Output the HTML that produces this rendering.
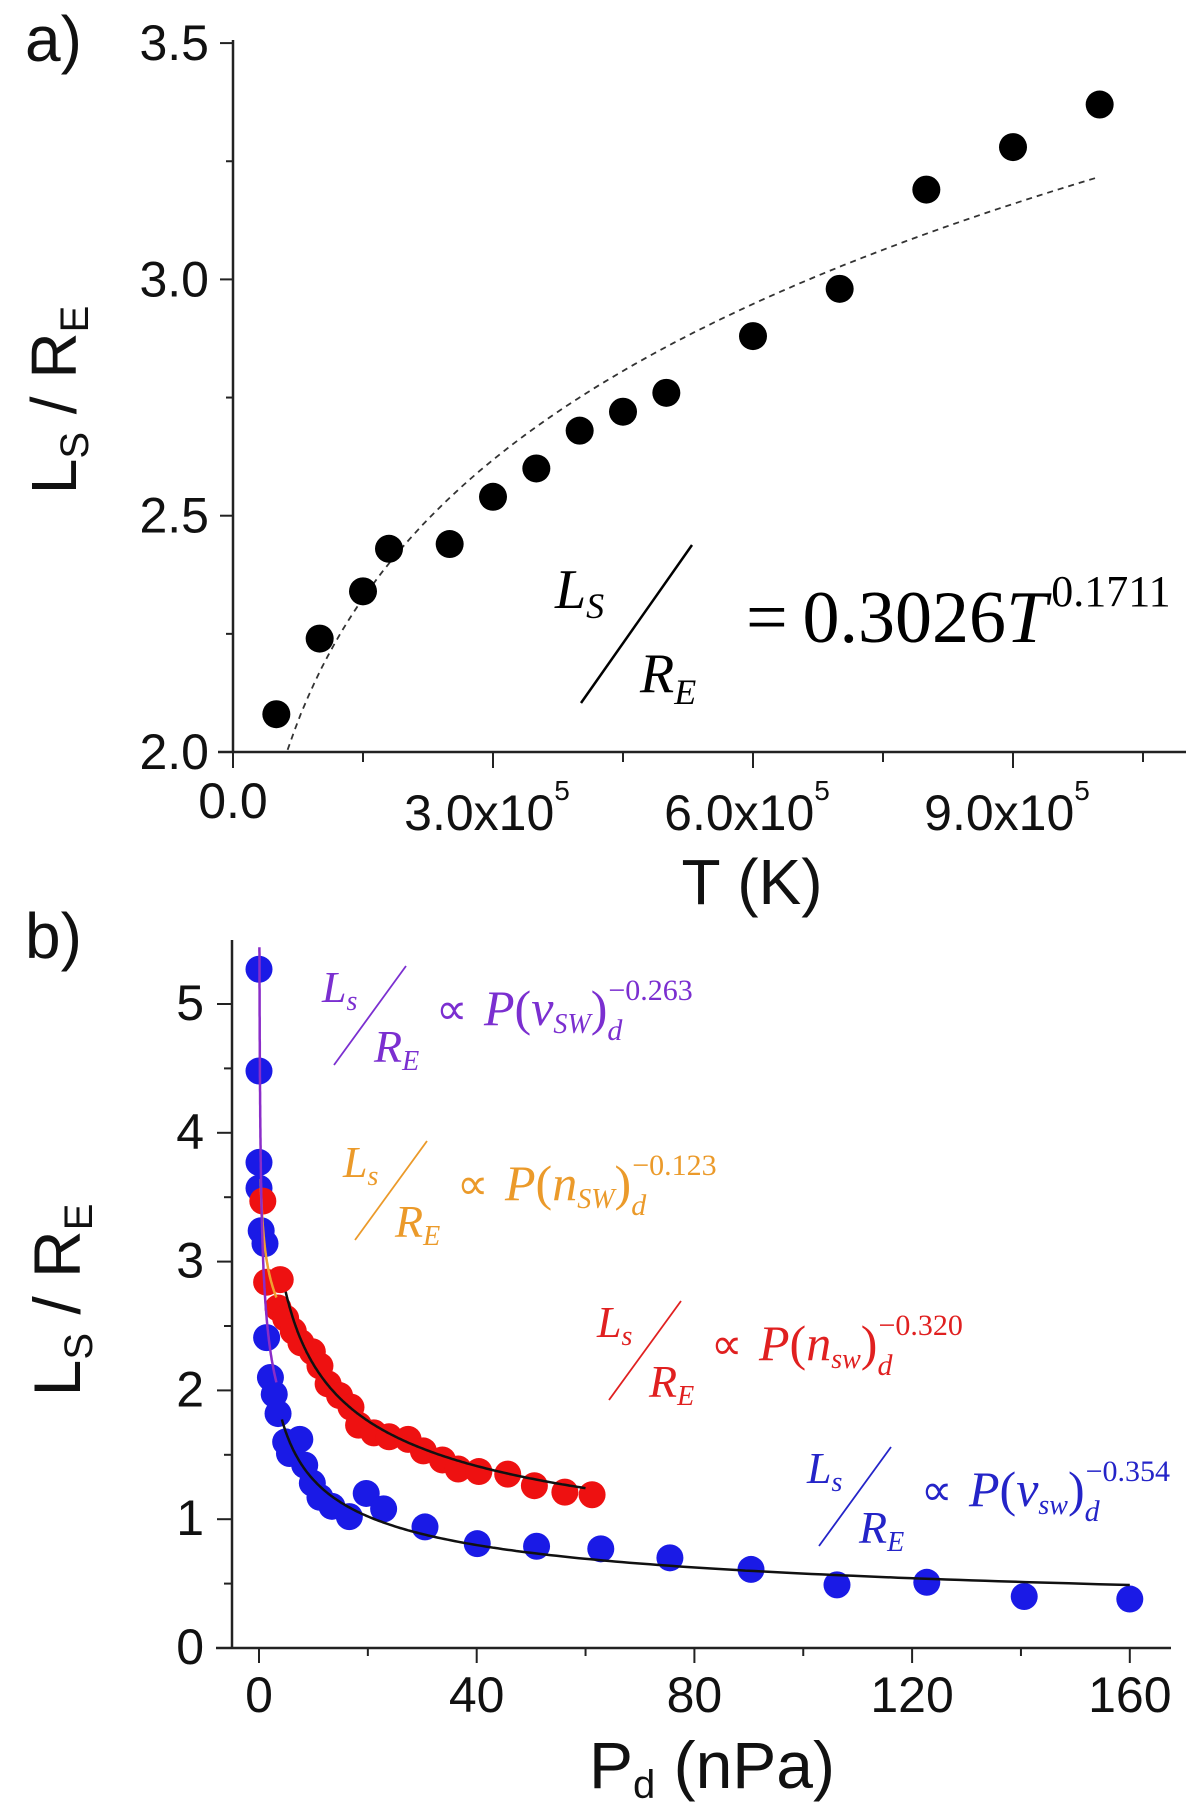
<!DOCTYPE html>
<html><head><meta charset="utf-8"><style>
html,body{margin:0;padding:0;background:#fff;}
svg{display:block;}
.sans{font-family:"Liberation Sans",sans-serif;}
.serif{font-family:"Liberation Serif",serif;font-style:italic;}
</style></head><body>
<svg id="fig" width="1200" height="1814" viewBox="0 0 1200 1814" xmlns="http://www.w3.org/2000/svg">
<g id="pa"></g>
<g id="pb"></g>
</svg>
<script>
// ---- Panel a data ----
const aT = [0.5e5,1e5,1.5e5,1.8e5,2.5e5,3e5,3.5e5,4e5,4.5e5,5e5,6e5,7e5,8e5,9e5,10e5];
const aL = [2.08,2.24,2.34,2.43,2.44,2.54,2.60,2.68,2.72,2.76,2.88,2.98,3.19,3.28,3.37];
const aYTicks = [2.0,2.5,3.0,3.5];
const aYLabels = ["2.0","2.5","3.0","3.5"];
const aXTicks = [0,3e5,6e5,9e5];
const aXMant = ["0.0","3.0x10","6.0x10","9.0x10"];
const aFitCoef = 0.3026, aFitExp = 0.1711;

// ---- Panel b data ----
const bBlueX = [0,0,0,0,0.4,1.1,1.4,2.1,2.8,3.5,4.9,5.6,7.5,8.4,9.8,11.2,13.4,16.6,19.7,22.9,30.5,40.1,51,62.8,75.5,90.4,106.2,122.7,140.6,160];
const bBlueY = [5.27,4.48,3.77,3.57,3.24,3.14,2.41,2.10,1.97,1.82,1.60,1.51,1.62,1.42,1.28,1.17,1.10,1.02,1.20,1.08,0.94,0.81,0.79,0.77,0.70,0.61,0.49,0.51,0.40,0.38];
const bRedX = [0.7,1.4,3.9,3.5,4.9,6.3,7.7,9.8,11.2,12.7,14.8,16.9,18.3,21.1,23.9,27.4,30.2,33.7,36.6,40.4,45.7,50.6,56.2,61.2];
const bRedY = [3.47,2.84,2.86,2.64,2.56,2.46,2.37,2.30,2.19,2.05,1.96,1.87,1.73,1.67,1.64,1.62,1.53,1.46,1.39,1.37,1.35,1.26,1.21,1.19];
const bYTicks = [0,1,2,3,4,5];
const bXTicks = [0,40,80,120,160];
const fitBlue = {c:2.95, e:0.354, x0:4.2, x1:160};
const fitRed = {c:4.6, e:0.320, x0:4.9, x1:60};
const fitOrange = {c:3.14, e:0.123, x0:0.3, x1:3.2};
const fitPurple = {c:2.8, e:0.263, x0:0.08, x1:3.2};

const NS="http://www.w3.org/2000/svg";
function mk(parent,tag,attrs,text){const e=document.createElementNS(NS,tag);for(const k in attrs)e.setAttribute(k,attrs[k]);if(text!==undefined)e.textContent=text;parent.appendChild(e);return e;}

const axX=v=>233+v/3e5*260, ayY=v=>752-(v-2)/0.5*236.3;
const bxX=v=>259+v/40*217.7, byY=v=>1648-v*128.8;

// ===== Panel a =====
const pa=document.getElementById('pa');
let e;
e=mk(pa,'line',{x1:233,y1:40,x2:233,y2:752,stroke:'#222','stroke-width':2.5});

e=mk(pa,'line',{x1:218,y1:752,x2:1186,y2:752,stroke:'#222','stroke-width':2.5});

for(let v=2.0;v<=3.51;v+=0.25){const y=ayY(v);const maj=Math.abs(v*2-Math.round(v*2))<1e-6;
 e=mk(pa,'line',{x1:maj?220:226,y1:y,x2:233,y2:y,stroke:'#222','stroke-width':2});
 }
for(let v=0;v<=10.6e5;v+=1.5e5){const x=axX(v);const maj=(Math.round(v/1.5e5)%2===0);
 e=mk(pa,'line',{x1:x,y1:752,x2:x,y2:maj?768:762,stroke:'#222','stroke-width':2});
 }
aYTicks.forEach((v,i)=>{e=mk(pa,'text',{x:209,y:ayY(v)+17,'text-anchor':'end','font-size':50,class:'sans',fill:'#111'},aYLabels[i]);
 });
aXTicks.forEach((v,i)=>{
 if(i===0){e=mk(pa,'text',{x:axX(v),y:818,'text-anchor':'middle','font-size':50,class:'sans',fill:'#111'},aXMant[i]);}
 else{e=mk(pa,'text',{x:axX(v)-6,y:830,'text-anchor':'middle','font-size':50,class:'sans',fill:'#111'});
  mk(e,'tspan',{},aXMant[i]);mk(e,'tspan',{'font-size':28,dy:-30},'5');}
 });
e=mk(pa,'text',{x:25,y:61,'font-size':64,class:'sans',fill:'#111'},'a)');

e=mk(pa,'text',{x:752,y:904,'text-anchor':'middle','font-size':64,class:'sans',fill:'#111'},'T (K)');

e=mk(pa,'text',{transform:'translate(76,400) rotate(-90)','text-anchor':'middle','font-size':64,class:'sans',fill:'#111'});
mk(e,'tspan',{},'L');mk(e,'tspan',{'font-size':40,dy:12},'S');mk(e,'tspan',{dy:-12},' / R');mk(e,'tspan',{'font-size':40,dy:12},'E');

let pts=[];for(let i=0;i<=120;i++){const t=6.3e4+(1e6-6.3e4)*i/120;pts.push(axX(t).toFixed(1)+','+ayY(aFitCoef*Math.pow(t,aFitExp)).toFixed(1));}
e=mk(pa,'polyline',{points:pts.join(' '),fill:'none',stroke:'#333','stroke-width':1.8,'stroke-dasharray':'6,5'});

aT.forEach((t,i)=>{e=mk(pa,'circle',{cx:axX(t),cy:ayY(aL[i]),r:14,fill:'#000'});
 });
e=mk(pa,'g',{class:'serif',fill:'#000'});

let t=mk(e,'text',{x:555,y:608,'font-size':56});mk(t,'tspan',{},'L');mk(t,'tspan',{'font-size':36,dy:10},'S');
mk(e,'line',{x1:692,y1:545,x2:581,y2:703,stroke:'#000','stroke-width':2.5});
t=mk(e,'text',{x:640,y:692,'font-size':56});mk(t,'tspan',{},'R');mk(t,'tspan',{'font-size':36,dy:12},'E');
t=mk(e,'text',{x:746,y:642,'font-size':74});
mk(t,'tspan',{'font-style':'normal'},'=\u20090.3026');mk(t,'tspan',{},'T');
mk(t,'tspan',{'font-size':44,'font-style':'normal',dy:-36,dx:4},'0.1711');

// ===== Panel b =====
const pb=document.getElementById('pb');
e=mk(pb,'line',{x1:232,y1:940,x2:232,y2:1648,stroke:'#222','stroke-width':2.5});

e=mk(pb,'line',{x1:216,y1:1648,x2:1171,y2:1648,stroke:'#222','stroke-width':2.5});

for(let v=0;v<=5.01;v+=0.5){const y=byY(v);const maj=Math.abs(v-Math.round(v))<1e-6;
 e=mk(pb,'line',{x1:maj?217:224,y1:y,x2:232,y2:y,stroke:'#222','stroke-width':2});
 }
for(let v=0;v<=160;v+=20){const x=bxX(v);const maj=v%40===0;
 e=mk(pb,'line',{x1:x,y1:1648,x2:x,y2:maj?1663:1656,stroke:'#222','stroke-width':2});
 }
bYTicks.forEach(v=>{e=mk(pb,'text',{x:204,y:byY(v)+16,'text-anchor':'end','font-size':50,class:'sans',fill:'#111'},String(v));
 });
bXTicks.forEach(v=>{e=mk(pb,'text',{x:bxX(v),y:1712,'text-anchor':'middle','font-size':50,class:'sans',fill:'#111'},String(v));
 });
e=mk(pb,'text',{x:25,y:958,'font-size':64,class:'sans',fill:'#111'},'b)');

e=mk(pb,'text',{x:712,y:1788,'text-anchor':'middle','font-size':66,class:'sans',fill:'#111'});
mk(e,'tspan',{},'P');mk(e,'tspan',{'font-size':40,dy:10},'d');mk(e,'tspan',{dy:-10},' (nPa)');

e=mk(pb,'text',{transform:'translate(80,1300) rotate(-90)','text-anchor':'middle','font-size':66,class:'sans',fill:'#111'});
mk(e,'tspan',{},'L');mk(e,'tspan',{'font-size':40,dy:12},'S');mk(e,'tspan',{dy:-12},' / R');mk(e,'tspan',{'font-size':40,dy:12},'E');


bBlueX.forEach((x,i)=>{e=mk(pb,'circle',{cx:bxX(x),cy:byY(bBlueY[i]),r:13.5,fill:'#1a1ae6'});
 });
bRedX.forEach((x,i)=>{e=mk(pb,'circle',{cx:bxX(x),cy:byY(bRedY[i]),r:13.5,fill:'#ee1111'});
 });
function curve(f,color,w){const p=[];for(let i=0;i<=200;i++){const x=f.x0*Math.pow(f.x1/f.x0,i/200);
 p.push(bxX(x).toFixed(1)+','+byY(f.c*Math.pow(x,-f.e)).toFixed(1));}
 return mk(pb,'polyline',{points:p.join(' '),fill:'none',stroke:color,'stroke-width':w});}
e=curve(fitBlue,'#111',2.5);
e=curve(fitRed,'#111',2.5);
e=curve(fitOrange,'#f0a030',2.5);
e=curve(fitPurple,'#8a2cc8',2.5);

function eq(Lx,Lb,color,var1,sub1,expo){
 const g=mk(pb,'g',{class:'serif',fill:color});
 let t=mk(g,'text',{x:Lx,y:Lb,'font-size':44});mk(t,'tspan',{},'L');mk(t,'tspan',{'font-size':28,dy:8},'s');
 mk(g,'line',{x1:Lx+84,y1:Lb-36,x2:Lx+12,y2:Lb+63,stroke:color,'stroke-width':1.8});
 t=mk(g,'text',{x:Lx+52,y:Lb+60,'font-size':46});mk(t,'tspan',{},'R');mk(t,'tspan',{'font-size':28,dy:8},'E');
 t=mk(g,'text',{x:Lx+114,y:Lb+22,'font-size':44,'font-style':'normal'},'\u221D');
 t=mk(g,'text',{x:Lx+162,y:Lb+23,'font-size':50});
 mk(t,'tspan',{},'P');mk(t,'tspan',{'font-style':'normal'},'(');mk(t,'tspan',{},var1);
 mk(t,'tspan',{'font-size':28,dy:8},sub1);mk(t,'tspan',{dy:-8,'font-style':'normal'},')');
 mk(t,'tspan',{'font-size':30,dy:15},'d');
 mk(t,'tspan',{'font-size':30,'font-style':'normal',dy:-40,dx:-14},expo);
 return g;}
e=eq(322,1002,'#7b2fd0','v','SW','\u22120.263');
e=eq(343,1177,'#eb9a2a','n','SW','\u22120.123');
e=eq(597,1337,'#e02020','n','sw','\u22120.320');
e=eq(807,1483,'#2424c8','v','sw','\u22120.354');
</script>
</body></html>
